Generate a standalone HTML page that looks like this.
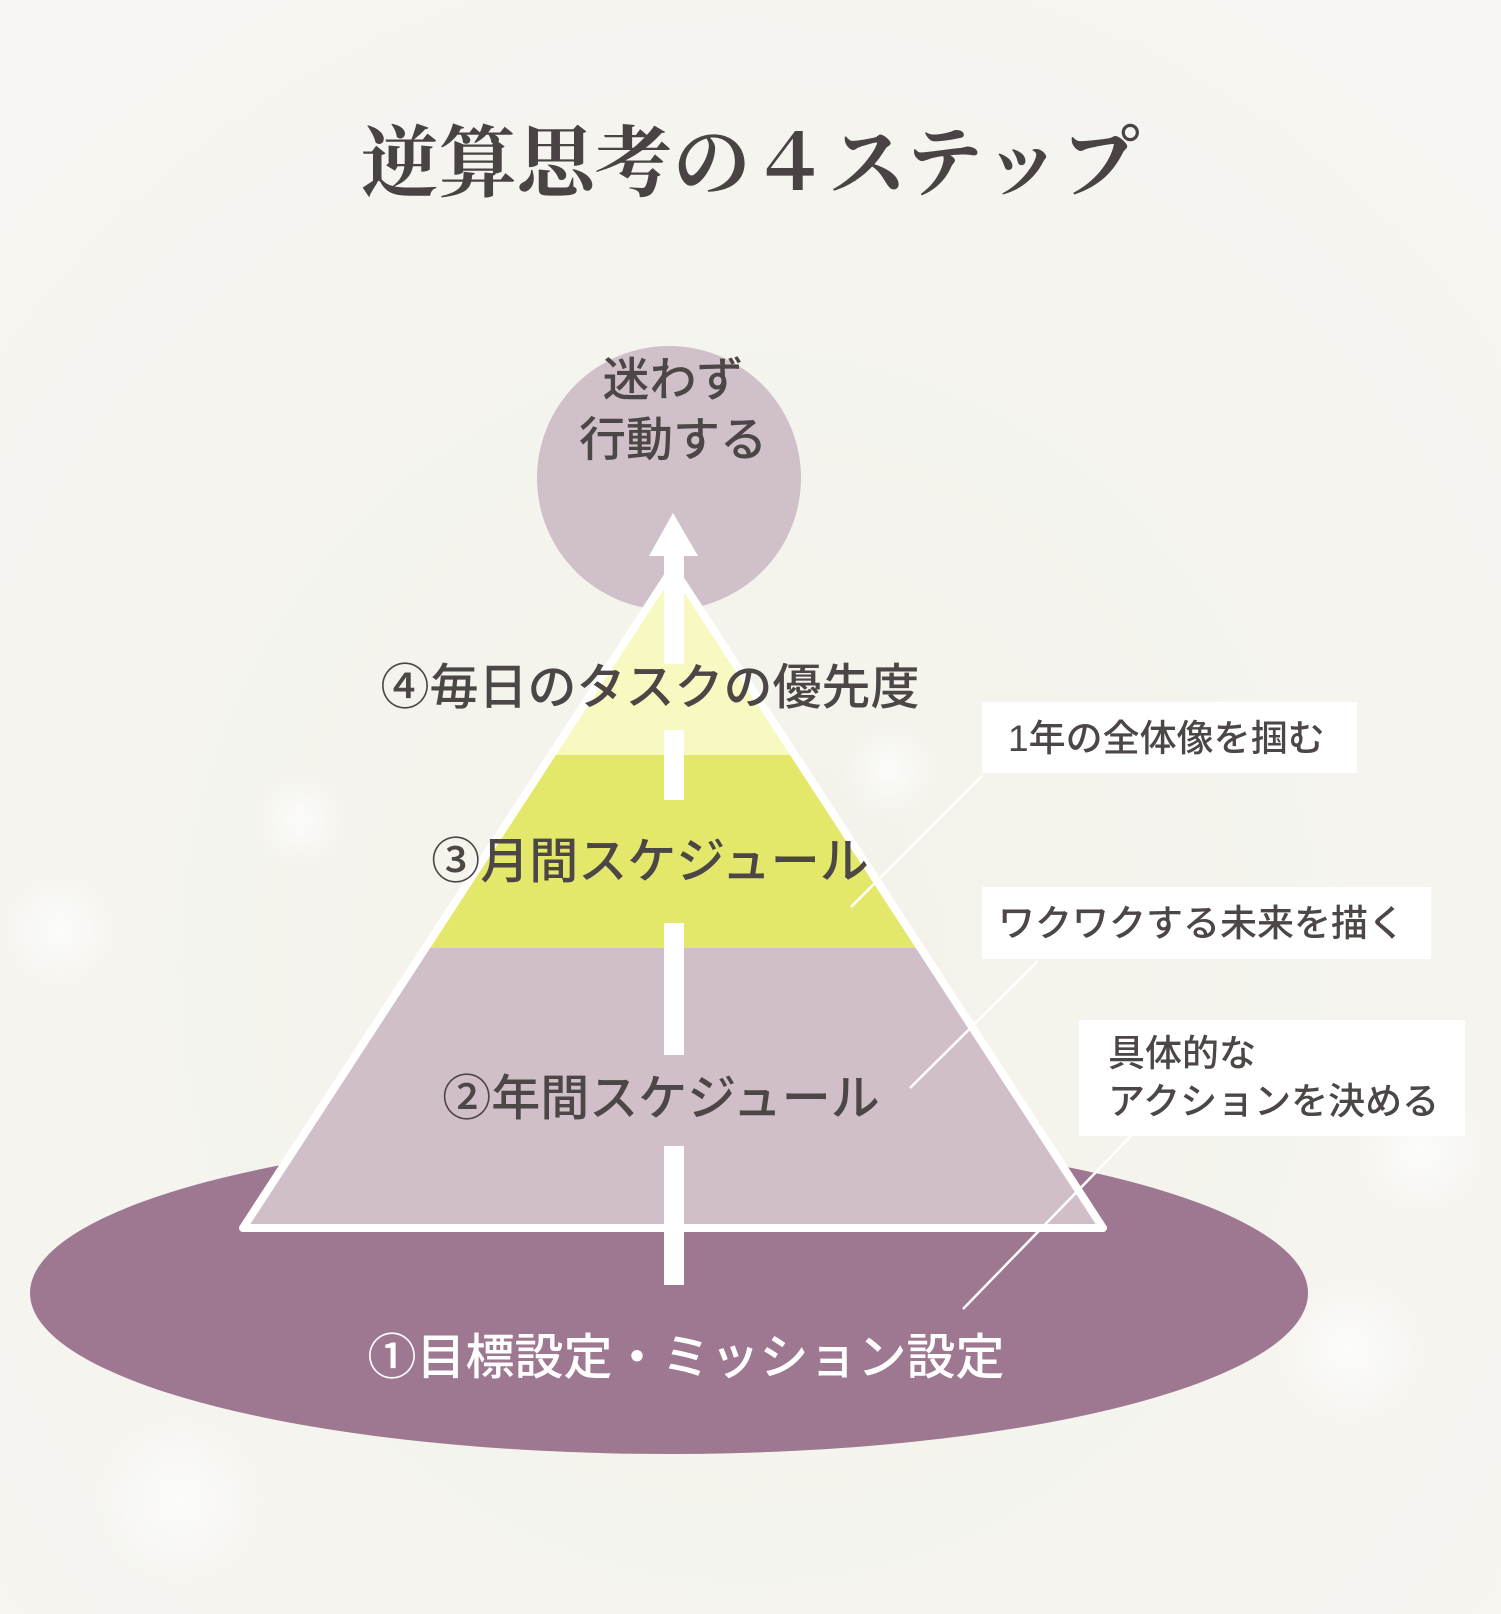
<!DOCTYPE html>
<html><head><meta charset="utf-8"><style>
html,body{margin:0;padding:0;}
body{width:1501px;height:1614px;overflow:hidden;background:#f4f3ed;position:relative;font-family:"Liberation Sans","Noto Sans CJK JP",sans-serif;}
svg{position:absolute;left:0;top:0;}
</style></head><body>
<svg width="1501" height="1614" viewBox="0 0 1501 1614" xmlns="http://www.w3.org/2000/svg">
<defs>
<radialGradient id="bg" cx="0.5" cy="0.6" r="0.7">
<stop offset="0" stop-color="#f3f2ea"/><stop offset="1" stop-color="#f6f5f1"/>
</radialGradient>
<radialGradient id="glow" cx="0.5" cy="0.5" r="0.5">
<stop offset="0" stop-color="#ffffff" stop-opacity="0.7"/><stop offset="1" stop-color="#ffffff" stop-opacity="0"/>
</radialGradient>
</defs>
<rect width="1501" height="1614" fill="url(#bg)"/>
<circle cx="60" cy="930" r="60" fill="url(#glow)"/>
<circle cx="300" cy="820" r="50" fill="url(#glow)"/>
<circle cx="1420" cy="1150" r="70" fill="url(#glow)"/>
<circle cx="1350" cy="1350" r="80" fill="url(#glow)"/>
<circle cx="890" cy="770" r="50" fill="url(#glow)"/>
<circle cx="180" cy="1500" r="90" fill="url(#glow)"/>

<text x="750" y="190" text-anchor="middle" font-family="'Liberation Serif','Noto Serif CJK SC',serif" font-weight="700" font-size="78" fill="#4a4343">逆算思考の４ステップ</text>

<ellipse cx="669" cy="1293" rx="639" ry="161" fill="#9e7790"/>
<circle cx="669" cy="478" r="132" fill="#cfc0ca"/>

<clipPath id="tri"><polygon points="673,568 243,1228 1103,1228"/></clipPath>
<g clip-path="url(#tri)">
<rect x="200" y="540" width="950" height="215" fill="#f8f9c0"/>
<rect x="200" y="755" width="950" height="193" fill="#e4e86a"/>
<rect x="200" y="948" width="950" height="290" fill="#d0bfc9"/>
</g>
<polygon points="673,568 243,1228 1103,1228" fill="none" stroke="#ffffff" stroke-width="8" stroke-linejoin="round"/>

<polygon points="673,513 649,556 698,556" fill="#fff"/>
<rect x="664" y="554" width="20" height="110" fill="#fff"/>
<rect x="664" y="730" width="20" height="70" fill="#fff"/>
<rect x="664" y="923" width="20" height="132" fill="#fff"/>
<rect x="664" y="1146" width="20" height="139" fill="#fff"/>

<g font-size="47" fill="#4d4646" text-anchor="middle" font-weight="500">
<text x="673" y="396">迷わず</text>
<text x="673" y="456">行動する</text>
</g>
<g font-size="49" fill="#4d4646" text-anchor="middle" font-weight="500">
<text x="650" y="704">④毎日のタスクの優先度</text>
<text x="650" y="878">③月間スケジュール</text>
<text x="661" y="1115">②年間スケジュール</text>
<text x="686" y="1374" fill="#ffffff">①目標設定・ミッション設定</text>
</g>

<g stroke="#ffffff" stroke-width="2.5">
<line x1="982" y1="776" x2="851" y2="907"/>
<line x1="1038" y1="961" x2="910" y2="1088"/>
<line x1="1131" y1="1136" x2="963" y2="1309"/>
</g>
<rect x="982" y="702" width="375" height="71" fill="#ffffff"/>
<rect x="982" y="887" width="449" height="72" fill="#ffffff"/>
<rect x="1079" y="1020" width="386" height="116" fill="#ffffff"/>
<g font-size="37" fill="#4d4646" font-weight="500">
<text x="1008" y="751">1年の全体像を掴む</text>
<text x="998" y="936">ワクワクする未来を描く</text>
<text x="1108" y="1066">具体的な</text>
<text x="1108" y="1114">アクションを決める</text>
</g>
</svg>
</body></html>
